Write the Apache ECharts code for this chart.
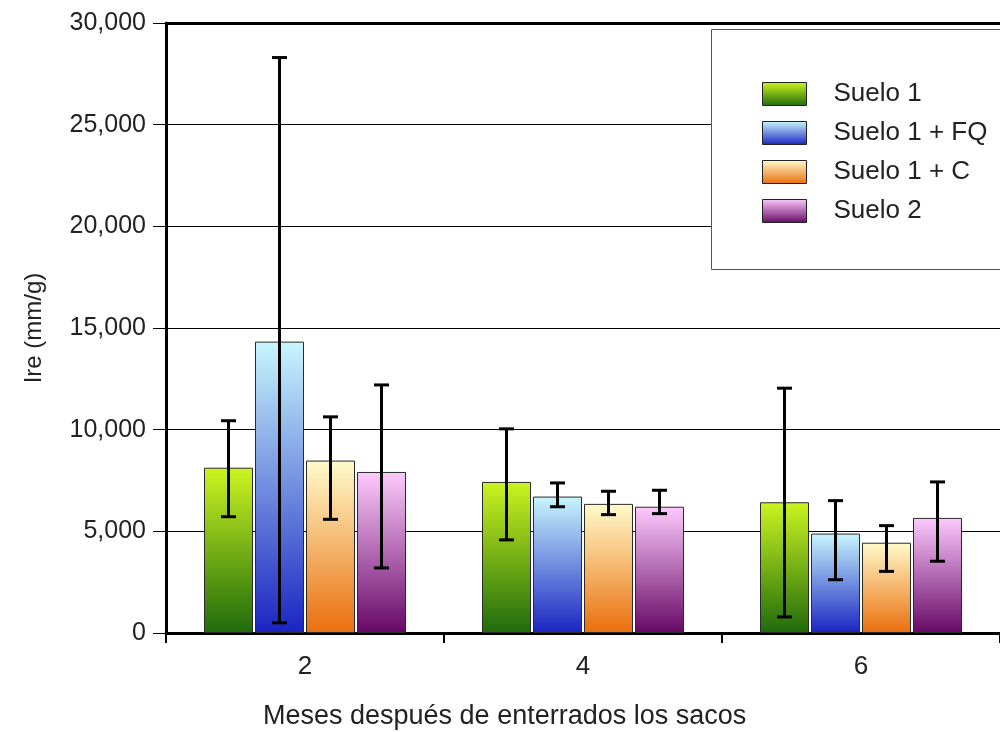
<!DOCTYPE html>
<html>
<head>
<meta charset="utf-8">
<script src="https://cdn.jsdelivr.net/npm/echarts@6/dist/echarts.min.js"></script>
<style>
  html, body { margin: 0; padding: 0; background: #fff; }
  #chart { width: 1000px; height: 732px; }
</style>
</head>
<body>
<div id="chart"></div>
<script>
// Months after burying the bags
const months = ['2', '4', '6'];
const seriesNames = ['Suelo 1', 'Suelo 1 + FQ', 'Suelo 1 + C', 'Suelo 2'];

// Mean Ire (mm/g) per treatment
const suelo1   = [8130, 7430, 6430];
const suelo1FQ = [14330, 6710, 4890];
const suelo1C  = [8480, 6350, 4440];
const suelo2   = [7920, 6210, 5660];

// Error bar ends (low / high)
const suelo1Low    = [5720, 4580, 790];
const suelo1High   = [10440, 10040, 12040];
const suelo1FQLow  = [500, 6210, 2620];
const suelo1FQHigh = [28300, 7380, 6510];
const suelo1CLow   = [5590, 5820, 3030];
const suelo1CHigh  = [10630, 6970, 5280];
const suelo2Low    = [3200, 5870, 3530];
const suelo2High   = [12200, 7020, 7430];

const yTicks = [0, 5000, 10000, 15000, 20000, 25000, 30000];

const means = [suelo1, suelo1FQ, suelo1C, suelo2];
const lows = [suelo1Low, suelo1FQLow, suelo1CLow, suelo2Low];
const highs = [suelo1High, suelo1FQHigh, suelo1CHigh, suelo2High];

const gradients = [
  ['#ccf520', '#1f6a0c'],
  ['#c8f6fd', '#1a24c2'],
  ['#fffbcc', '#ea6e0c'],
  ['#fdcafd', '#660866']
];

const BAR_W = 49;
const BAR_GAP = 2;
const FONT = '"Liberation Sans", Arial, sans-serif';

function grad(c) {
  return new echarts.graphic.LinearGradient(0, 0, 0, 1, [
    { offset: 0, color: c[0] },
    { offset: 1, color: c[1] }
  ]);
}

const chart = echarts.init(document.getElementById('chart'), null, { renderer: 'canvas' });

const series = [];
means.forEach((vals, i) => {
  series.push({
    name: seriesNames[i],
    type: 'bar',
    data: vals,
    barWidth: BAR_W,
    barGap: (BAR_GAP / BAR_W * 100) + '%',
    itemStyle: { color: grad(gradients[i]), borderColor: '#2a2a2a', borderWidth: 1 },
    emphasis: { disabled: true },
    z: 2
  });
});

// Error bars drawn on top of each bar
means.forEach((vals, i) => {
  const offset = (i - (means.length - 1) / 2) * (BAR_W + BAR_GAP);
  series.push({
    type: 'custom',
    name: seriesNames[i] + ' err',
    data: months.map((m, k) => [k, lows[i][k], highs[i][k]]),
    z: 5,
    silent: true,
    renderItem: function (params, api) {
      const lo = api.coord([api.value(0), api.value(1)]);
      const hi = api.coord([api.value(0), api.value(2)]);
      const x = lo[0] + offset;
      const cap = 7.5;
      const st = { stroke: '#000', lineWidth: 3 };
      return {
        type: 'group',
        children: [
          { type: 'line', shape: { x1: x, y1: lo[1], x2: x, y2: hi[1] }, style: st },
          { type: 'line', shape: { x1: x - cap, y1: hi[1], x2: x + cap, y2: hi[1] }, style: st },
          { type: 'line', shape: { x1: x - cap, y1: lo[1], x2: x + cap, y2: lo[1] }, style: st }
        ]
      };
    }
  });
});

chart.setOption({
  animation: false,
  backgroundColor: '#fff',
  title: {
    text: 'Meses después de enterrados los sacos',
    left: 263,
    top: 703,
    padding: 0,
    textStyle: { fontFamily: FONT, fontSize: 27, fontWeight: 'normal', color: '#222' }
  },
  grid: {
    left: 166, right: 0, top: 23, bottom: 99,
    show: false
  },
  // legend frame, running past the right edge of the page
  graphic: [{
    type: 'rect',
    z: 3,
    shape: { x: 711.5, y: 29.5, width: 320, height: 240 },
    style: { fill: '#fff', stroke: '#555', lineWidth: 1 }
  }],
  legend: {
    data: seriesNames,
    orient: 'vertical',
    left: 711,
    top: 29,
    z: 4,
    itemWidth: 44,
    itemHeight: 23,
    itemGap: 13,
    padding: [52, 20, 45, 51],
    icon: 'rect',
    itemStyle: { borderColor: '#222', borderWidth: 1 },
    textStyle: { fontFamily: FONT, fontSize: 26, lineHeight: 23, color: '#222', padding: [0, 0, 0, 22] },
    selectedMode: false
  },
  xAxis: [{
    type: 'category',
    data: months,
    axisLine: { lineStyle: { color: '#000', width: 3 } },
    axisTick: { show: true, length: 10, lineStyle: { color: '#000', width: 2 } },
    axisLabel: { fontFamily: FONT, fontSize: 26, color: '#222', margin: 21 },
    splitLine: { show: false }
  }, {
    // thick frame line along the top of the plot
    type: 'category',
    data: months,
    position: 'top',
    axisLine: { lineStyle: { color: '#000', width: 3 } },
    axisTick: { show: false },
    axisLabel: { show: false },
    splitLine: { show: false }
  }],
  yAxis: {
    type: 'value',
    min: yTicks[0],
    max: yTicks[yTicks.length - 1],
    interval: yTicks[1] - yTicks[0],
    name: 'Ire (mm/g)',
    nameLocation: 'middle',
    nameGap: 120,
    nameTextStyle: { fontFamily: FONT, fontSize: 24, color: '#222' },
    axisLine: { show: true, lineStyle: { color: '#000', width: 3 } },
    axisTick: { show: true, length: 13, lineStyle: { color: '#000', width: 1 } },
    axisLabel: {
      fontFamily: FONT, fontSize: 25, color: '#222', margin: 20,
      formatter: v => v.toLocaleString('en-US')
    },
    splitLine: { show: true, lineStyle: { color: '#000', width: 1 } }
  },
  series: series
});
</script>
</body>
</html>
